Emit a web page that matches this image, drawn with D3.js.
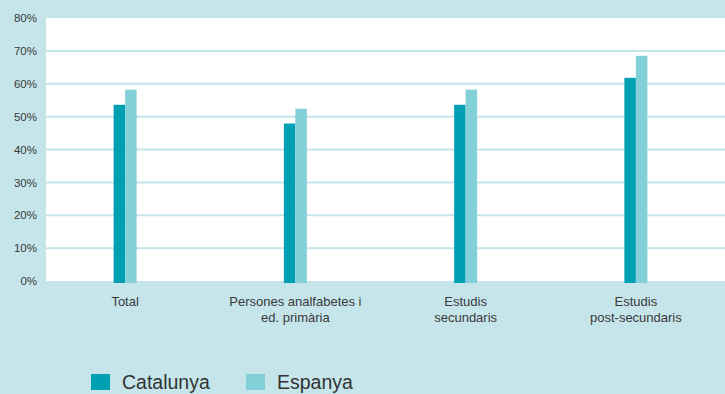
<!DOCTYPE html>
<html>
<head>
<meta charset="utf-8">
<script src="https://cdn.jsdelivr.net/npm/d3@7"></script>
<style>
    body { margin: 0; background: #c5e5ea; }
    svg { display: block; font-family: "Liberation Sans", Arial, sans-serif; }
</style>
</head>
<body>
<svg id="drawing_region"></svg>
<script>
const categories = [["Total"], ["Persones analfabetes i", "ed. primària"], ["Estudis", "secundaris"], ["Estudis", "post-secundaris"]];
const series = ["Catalunya", "Espanya"];
const catalunya = [53.6, 47.9, 53.6, 61.8];
const espanya = [58.2, 52.4, 58.2, 68.5];
const yticks = [0, 10, 20, 30, 40, 50, 60, 70, 80];
const colors = ["#00a0b4", "#84d0d8"];

const config = {
    width: 725,
    height: 394,
    margin: {top: 18, right: 0, bottom: 113, left: 46}
};

const svg = d3.select('#drawing_region')
    .attr('width', config.width)
    .attr('height', config.height);

const inner_width = config.width - config.margin.left - config.margin.right;
const inner_height = config.height - config.margin.top - config.margin.bottom;

svg.append('rect')
    .attr('width', config.width)
    .attr('height', config.height)
    .attr('fill', '#c5e5ea');

const chart = svg.append('g')
    .attr('transform', `translate(${config.margin.left}, ${config.margin.top})`);

chart.append('rect')
    .attr('width', inner_width)
    .attr('height', inner_height)
    .attr('fill', '#ffffff');

const yscale = d3.scaleLinear()
    .domain([0, 80])
    .range([inner_height, 0]);

const xscale = d3.scaleBand()
    .domain(d3.range(categories.length))
    .range([-6, 675]);

const inner = d3.scaleBand()
    .domain(series)
    .range([-11.5, 11.5]);

// gridlines
chart.selectAll('.grid')
    .data(yticks.filter(d => d > 0 && d < 80))
    .join('line')
    .attr('x1', 0)
    .attr('x2', inner_width)
    .attr('y1', d => yscale(d))
    .attr('y2', d => yscale(d))
    .attr('stroke', '#c5e5ea')
    .attr('stroke-width', 2);

// y axis labels
const yaxis = d3.axisLeft(yscale)
    .tickValues(yticks)
    .tickFormat(d => d + '%')
    .tickSize(0)
    .tickPadding(9);

chart.append('g')
    .call(yaxis)
    .call(g => g.select('.domain').remove())
    .call(g => g.selectAll('text')
        .attr('fill', '#3a3a3a')
        .style('font-size', '11.5px'));

// bars
const rows = categories.map((c, i) => ({i: i, values: [catalunya[i], espanya[i]]}));

const groups = chart.selectAll('.grp')
    .data(rows)
    .join('g')
    .attr('transform', d => `translate(${xscale(d.i) + xscale.bandwidth() / 2}, 0)`);

groups.selectAll('rect')
    .data(d => d.values.map((v, k) => ({key: series[k], value: v, k: k})))
    .join('rect')
    .attr('x', d => inner(d.key))
    .attr('y', d => yscale(d.value))
    .attr('width', inner.bandwidth())
    .attr('height', d => inner_height - yscale(d.value) + 2)
    .attr('fill', d => colors[d.k]);

// category labels
groups.append('text')
    .attr('text-anchor', 'middle')
    .attr('y', inner_height + 25)
    .attr('fill', '#3a3a3a')
    .style('font-size', '13px')
    .selectAll('tspan')
    .data(d => categories[d.i])
    .join('tspan')
    .attr('x', 0)
    .attr('dy', (d, k) => k === 0 ? 0 : 16)
    .text(d => d);

// legend
const legend = svg.append('g')
    .attr('transform', 'translate(91, 374)');

const items = legend.selectAll('g')
    .data(series)
    .join('g')
    .attr('transform', (d, i) => `translate(${i * 155}, 0)`);

items.append('rect')
    .attr('width', 19)
    .attr('height', 16)
    .attr('fill', (d, i) => colors[i]);

items.append('text')
    .attr('x', 31)
    .attr('y', 15)
    .attr('fill', '#333')
    .style('font-size', '19.5px')
    .text(d => d);
</script>
</body>
</html>
